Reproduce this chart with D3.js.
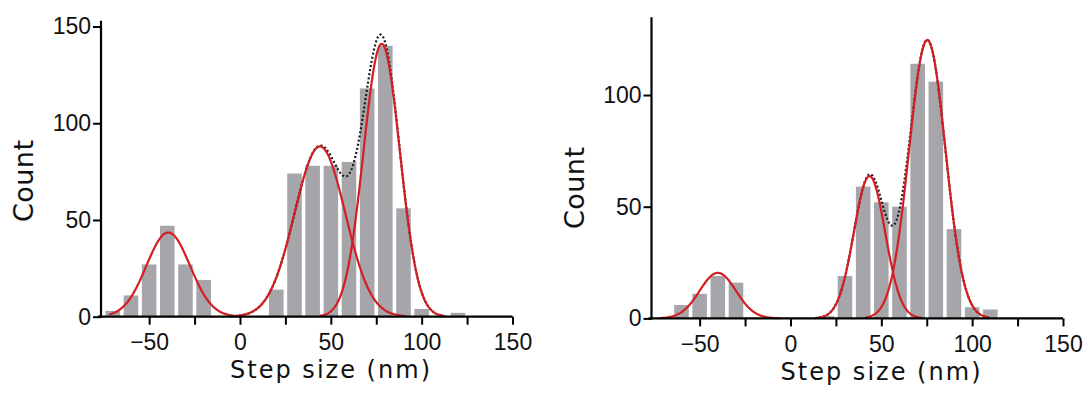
<!DOCTYPE html>
<html>
<head>
<meta charset="utf-8">
<script src="https://cdn.jsdelivr.net/npm/d3@7"></script>
<style>
  html, body { margin: 0; padding: 0; background: #ffffff; }
  svg { display: block; }
  .tick text { font-family: "Liberation Sans", Arial, sans-serif; font-size: 23px; fill: #111; }
  .lbl { font-family: "DejaVu Sans", "Liberation Sans", sans-serif; fill: #111; }
</style>
</head>
<body>
<svg id="chart" width="1088" height="397"></svg>
<script>
// ---------- data ----------
const leftBinCenters = [-70, -60, -50, -40, -30, -20, 20, 30, 40, 50, 60, 70, 80, 90, 100, 120];
const leftCounts     = [3, 11, 27, 47, 27, 19, 14, 74, 78, 78, 80, 118, 140, 56, 4, 2];
const rightBinCenters = [-60, -50, -40, -30, 20, 30, 40, 50, 60, 70, 80, 90, 100, 110];
const rightCounts     = [6, 11, 19, 16, 1, 19, 59, 52, 50, 114, 106, 40, 5, 4];

// Gaussian fit parameters (amplitude, centre, sigma)
const leftFitAmp   = [43.5, 88, 141];
const leftFitMean  = [-39.5, 44, 78];
const leftFitSigma = [12, 14, 10];
const rightFitAmp   = [20.4, 63.7, 124.6];
const rightFitMean  = [-40, 43.5, 75.3];
const rightFitSigma = [10, 8.6, 10];

const xTickValues = [-50, -25, 0, 25, 50, 75, 100, 125, 150];
const leftYTicks  = [0, 50, 100, 150];
const rightYTicks = [0, 50, 100];
const binWidth = 10;
const xLabel = "Step size (nm)";
const yLabel = "Count";

// ---------- drawing ----------
const svg = d3.select("#chart");
const barColor = "#a6a5aa";
const red = "#d41e24";

function gauss(a, m, s, x) { return a * Math.exp(-((x - m) * (x - m)) / (2 * s * s)); }

function panel(cfg) {
  const g = svg.append("g");
  const x = d3.scaleLinear().domain([-76.5, 150]).range([cfg.x0, cfg.x0 + 411.5]);
  const y = d3.scaleLinear().domain([0, cfg.yMax]).range([cfg.yBase, cfg.yTop]);

  // bars
  const inset = 1.8;
  g.selectAll("rect.bar").data(cfg.centers.map((c, i) => ({c, v: cfg.counts[i]})))
    .enter().append("rect")
    .attr("x", d => x(d.c - binWidth / 2) + inset)
    .attr("width", d => x(d.c + binWidth / 2) - x(d.c - binWidth / 2) - 2 * inset)
    .attr("y", d => y(d.v))
    .attr("height", d => y(0) - y(d.v))
    .attr("fill", barColor);

  const line = d3.line().x(d => x(d[0])).y(d => y(d[1])).curve(d3.curveLinear);

  // sum of the two right-hand gaussians (dotted black), under the red curves
  const sumPts = [];
  const sLo = cfg.mean[1] - 3.5 * cfg.sigma[1], sHi = cfg.mean[2] + 3.5 * cfg.sigma[2];
  for (let t = sLo; t <= sHi + 1e-9; t += 0.25) {
    sumPts.push([t, gauss(cfg.amp[1], cfg.mean[1], cfg.sigma[1], t) + gauss(cfg.amp[2], cfg.mean[2], cfg.sigma[2], t)]);
  }
  g.append("path").datum(sumPts).attr("d", line)
    .attr("fill", "none").attr("stroke", "#1a1a1a").attr("stroke-width", 2.2)
    .attr("stroke-dasharray", "2,2.2");

  // red gaussian components
  for (let k = 0; k < 3; k++) {
    const pts = [];
    const lo = Math.max(-72, cfg.mean[k] - 3.4 * cfg.sigma[k]);
    const hi = cfg.mean[k] + 3.4 * cfg.sigma[k];
    for (let t = lo; t <= hi + 1e-9; t += 0.25) pts.push([t, gauss(cfg.amp[k], cfg.mean[k], cfg.sigma[k], t)]);
    g.append("path").datum(pts).attr("d", line)
      .attr("fill", "none").attr("stroke", red).attr("stroke-width", 2.2);
  }

  // axes
  const xAxis = d3.axisBottom(x).tickValues(xTickValues).tickSize(8).tickSizeOuter(0).tickPadding(9)
    .tickFormat(d => (d % 50 === 0 ? (d < 0 ? "\u2212" + Math.abs(d) : String(d)) : ""));
  const gx = g.append("g").attr("transform", `translate(0,${cfg.yBase})`).call(xAxis);
  gx.select(".domain").attr("stroke", "#000").attr("stroke-width", 2.2)
    .attr("d", `M${cfg.x0 - 3},0H${x(150)}`);
  gx.selectAll(".tick line").attr("stroke", "#000").attr("stroke-width", 2);

  const yAxis = d3.axisLeft(y).tickValues(cfg.yTicks).tickSize(8).tickSizeOuter(0).tickPadding(2)
    .tickFormat(d3.format("d"));
  const gy = g.append("g").attr("transform", `translate(${cfg.x0},0)`).call(yAxis);
  gy.select(".domain").attr("stroke", "#000").attr("stroke-width", 2.2)
    .attr("d", `M0,${cfg.yTop}V${cfg.yBase + 1}`);
  gy.selectAll(".tick line").attr("stroke", "#000").attr("stroke-width", 2);

  // axis titles
  g.append("text").attr("class", "lbl")
    .attr("x", cfg.x0 + 229).attr("y", cfg.xLabelY)
    .attr("text-anchor", "middle").attr("font-size", 24)
    .attr("textLength", 200).attr("lengthAdjust", "spacing")
    .text(xLabel);
  g.append("text").attr("class", "lbl")
    .attr("transform", `translate(${cfg.x0 - 68},${cfg.yLabelMid}) rotate(-90)`)
    .attr("text-anchor", "middle").attr("font-size", 27)
    .attr("textLength", 82).attr("lengthAdjust", "spacing")
    .text(yLabel);
}

panel({
  x0: 101, yBase: 316.7, yTop: 20.7, yMax: 153, yTicks: leftYTicks,
  centers: leftBinCenters, counts: leftCounts,
  amp: leftFitAmp, mean: leftFitMean, sigma: leftFitSigma,
  xLabelY: 378, yLabelMid: 181
});
panel({
  x0: 651.5, yBase: 318.4, yTop: 17.3, yMax: 134.8, yTicks: rightYTicks,
  centers: rightBinCenters, counts: rightCounts,
  amp: rightFitAmp, mean: rightFitMean, sigma: rightFitSigma,
  xLabelY: 380, yLabelMid: 188
});
</script>
</body>
</html>
